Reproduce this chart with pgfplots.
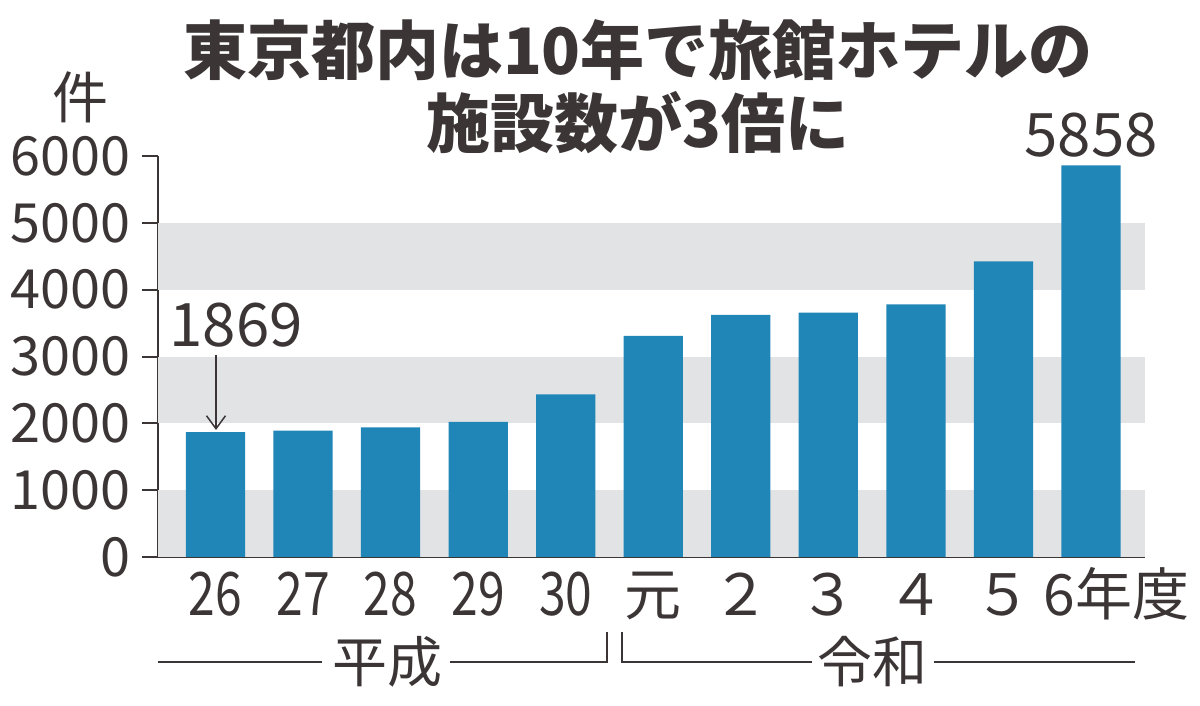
\documentclass[border=0pt]{standalone}
\usepackage{fontspec}
\usepackage{pgfplots}
\pgfplotsset{compat=1.18}
\usetikzlibrary{arrows.meta}
\setmainfont{Noto Sans CJK JP}
\newfontfamily\condfont[FakeStretch=0.8]{Noto Sans CJK JP}
\definecolor{barblue}{RGB}{32,134,184}
\definecolor{band}{RGB}{225,227,229}
\definecolor{ink}{RGB}{59,53,54}
\newcommand{\hs}[1]{{\condfont\fontsize{30}{30}\selectfont #1}}
\begin{document}
\begin{tikzpicture}
\useasboundingbox (0,0) rectangle (600pt,353pt);
\begin{axis}[
  at={(79pt,74.5pt)}, anchor=south west,
  scale only axis, width=493.5pt, height=200.5pt,
  xmin=-0.657, xmax=10.617, ymin=0, ymax=6000,
  axis x line*=bottom, axis y line*=left,
  axis line style={ink, line width=1pt},
  ytick={0,1000,2000,3000,4000,5000,6000},
  yticklabels={0,1000,2000,3000,4000,5000,6000},
  tick align=outside, ytick pos=left,
  major tick length=8pt,
  y tick style={ink, line width=1pt},
  yticklabel style={font=\fontsize{27}{27}\selectfont, text=ink, anchor=east, inner sep=0pt, xshift=-5.5pt},
  xtick={0,1,2,3,4,5,6,7,8,9,10},
  xticklabels={\hs{26},\hs{27},\hs{28},\hs{29},\hs{30},元,２,３,４,５,{\rlap{\hspace*{-23.5pt}6年度}}},
  x tick style={draw=none},
  xticklabel style={font=\fontsize{28.5}{28.5}\selectfont, text=ink, anchor=base, inner sep=0pt, yshift=-21.5pt},
  clip=false,
]
\fill[band] (axis cs:-0.657,0) rectangle (axis cs:10.617,1000);
\fill[band] (axis cs:-0.657,2000) rectangle (axis cs:10.617,3000);
\fill[band] (axis cs:-0.657,4000) rectangle (axis cs:10.617,5000);
\addplot[ybar, bar width=0.677, fill=barblue, draw=none] coordinates {
(0,1869) (1,1890) (2,1938) (3,2020) (4,2433) (5,3308) (6,3622) (7,3655) (8,3780) (9,4425) (10,5858)
};
\end{axis}
\begin{scope}[x=0.5pt,y=-0.5pt,yshift=353pt]
\node[text=ink, font=\bfseries\fontsize{32}{32}\selectfont] at (638,50) {東京都内は10年で旅館ホテルの};
\node[text=ink, font=\bfseries\fontsize{32}{32}\selectfont] at (638,123) {施設数が3倍に};
\node[text=ink, font=\fontsize{28}{28}\selectfont] at (81,97) {件};
\node[text=ink, font=\fontsize{30}{30}\selectfont] at (236,325) {1869};
\node[text=ink, font=\fontsize{30}{30}\selectfont] at (1091,135) {5858};
\draw[ink, line width=0.75pt, -{Straight Barb[length=6.5pt,width=9.5pt]}] (216,355) -- (216,430);
\node[text=ink, font=\fontsize{27.5}{27.5}\selectfont] at (387,662) {平成};
\node[text=ink, font=\fontsize{27.5}{27.5}\selectfont] at (872,662) {令和};
\draw[ink, line width=1pt] (158,662) -- (322,662);
\draw[ink, line width=1pt] (450,662) -- (607,662) -- (607,632);
\draw[ink, line width=1pt] (622,632) -- (622,662) -- (812,662);
\draw[ink, line width=1pt] (934,662) -- (1135,662);
\end{scope}
\end{tikzpicture}
\end{document}
